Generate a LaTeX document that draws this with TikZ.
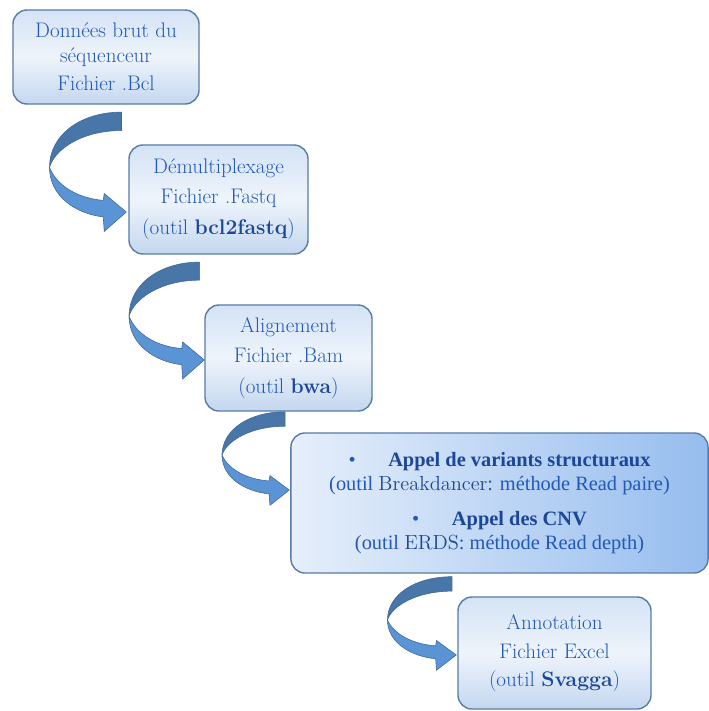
\documentclass[tikz,border=0pt]{standalone}
\usepackage{fontspec}
\newfontfamily\timesfont{Liberation Serif}
\definecolor{stepblue}{RGB}{34,88,182}
\definecolor{toolblue}{RGB}{28,70,150}
\definecolor{boxedge}{RGB}{88,124,166}
\definecolor{boxtop}{RGB}{212,227,245}
\definecolor{boxmid}{RGB}{238,244,251}
\definecolor{boxbot}{RGB}{196,215,239}
\definecolor{callleft}{RGB}{230,239,251}
\definecolor{callright}{RGB}{150,189,238}
\definecolor{arrowback}{RGB}{72,118,168}
\definecolor{arrowfront}{RGB}{90,148,212}
\definecolor{arrowedge}{RGB}{62,102,150}
\newcommand{\tool}[1]{{\rmfamily\color{toolblue}#1}}
\newcommand{\flowarrow}[3]{%
  \begin{scope}[shift={#1},xscale=#2,yscale=#3]
    % back of the band, seen at the top
    \fill[arrowback,draw=arrowedge,line width=0.4pt]
      (-5,-103) .. controls (-47,-103) and (-80,-80) .. (-80,-46)
      .. controls (-75,-64) and (-47,-84) .. (-5,-84) -- cycle;
    % front of the band with its head
    \fill[arrowfront,draw=arrowedge,line width=0.4pt]
      (-80,-46) .. controls (-80,-16) and (-52,2) .. (-24,5)
      -- (-23,20) -- (0,0) -- (-23,-19) -- (-24,-12)
      .. controls (-49,-14) and (-72,-26) .. (-80,-46) -- cycle;
  \end{scope}}
\tikzset{
  stepbox/.style={draw=boxedge,line width=1pt,rounded corners=10pt,
    top color=boxtop,bottom color=boxbot,middle color=boxmid,
    text=stepblue,align=center,inner sep=4pt,
    font=\fontsize{15}{18}\selectfont},
  callbox/.style={stepbox,left color=callleft,right color=callright,
    font=\timesfont\fontsize{14.5}{17.5}\selectfont}
}
\begin{document}
\begin{tikzpicture}[x=0.025cm,y=-0.025cm]
  \useasboundingbox (0,0) rectangle (709,711);
  \node[stepbox,minimum width=4.65cm,minimum height=2.35cm] (raw) at (106,57)
    {Données brut du\\ séquenceur\\[2pt] Fichier .Bcl};
  \node[stepbox,minimum width=4.475cm,minimum height=2.725cm] (demux) at (218.5,199.5)
    {Démultiplexage\\[3pt] Fichier .Fastq\\[4pt] (outil \textbf{\tool{bcl2fastq}})};
  \node[stepbox,minimum width=4.175cm,minimum height=2.65cm] (align) at (288.5,358)
    {Alignement\\[3pt] Fichier .Bam\\[4pt] (outil \textbf{\tool{bwa}})};
  \node[callbox,minimum width=10.425cm,minimum height=3.5cm] (calls) at (499.5,503)
    {\textbullet\hspace{1.6em}{\color{toolblue}\textbf{Appel de variants structuraux}}\\
     (outil \tool{Breakdancer}: méthode Read paire)\\[7pt]
     \textbullet\hspace{1.6em}{\color{toolblue}\textbf{Appel des CNV}}\\
     (outil \tool{ERDS}: méthode Read depth)};
  \node[stepbox,minimum width=4.825cm,minimum height=2.8cm] (annot) at (554.5,653)
    {Annotation\\[3pt] Fichier Excel\\[2pt] (outil \textbf{\tool{Svagga}})};
  % curved arrows between the steps
  \flowarrow{([xshift=-1.4pt,yshift=-8.9pt]demux.west)}{0.96}{0.97}
  \flowarrow{([yshift=-1.4pt]align.west)}{0.94}{0.95}
  \flowarrow{([xshift=-0.7pt,yshift=9.2pt]calls.west)}{0.84}{0.76}
  \flowarrow{([xshift=-0.7pt,yshift=-1.4pt]annot.west)}{0.86}{0.76}
\end{tikzpicture}
\end{document}
